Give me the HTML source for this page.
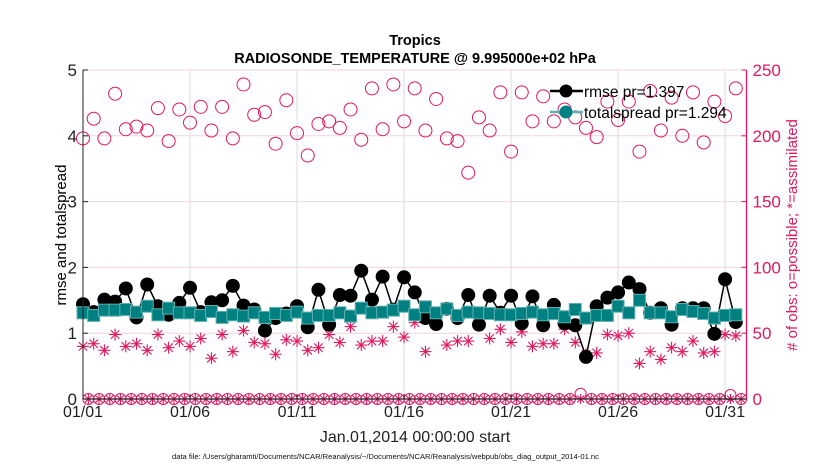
<!DOCTYPE html>
<html><head><meta charset="utf-8"><style>
body{margin:0;background:#fff;}
svg{display:block;font-family:"Liberation Sans",Arial,sans-serif;}
</style></head><body>
<svg id="chart" width="830" height="470" viewBox="0 0 830 470">
<g id="grid"></g>
<g id="marks"></g>
<g id="axes"></g>
<text x="415" y="45" text-anchor="middle" font-size="14.5" font-weight="bold">Tropics</text>
<text x="415" y="63" text-anchor="middle" font-size="14.5" font-weight="bold">RADIOSONDE_TEMPERATURE @ 9.995000e+02 hPa</text>
<text transform="translate(66,235) rotate(-90)" text-anchor="middle" font-size="15">rmse and totalspread</text>
<text transform="translate(797,235) rotate(-90)" text-anchor="middle" font-size="15" fill="#e0185f"># of obs: o=possible; *=assimilated</text>
<text x="415" y="442" text-anchor="middle" font-size="16" fill="#222">Jan.01,2014 00:00:00 start</text>
<text x="172" y="459" font-size="7.6" fill="#111">data file: /Users/gharamti/Documents/NCAR/Reanalysis/~/Documents/NCAR/Reanalysis/webpub/obs_diag_output_2014-01.nc</text>
<g>
<line x1="550" y1="91" x2="583" y2="91" stroke="#000" stroke-width="2.5"/>
<circle cx="566" cy="91" r="6.5" fill="#000"/>
<text x="584" y="97" font-size="15.5">rmse pr=1.397</text>
<line x1="550" y1="112" x2="583" y2="112" stroke="#5fb0b0" stroke-width="2.5"/>
<circle cx="566" cy="112" r="6.5" fill="#008080"/>
<text x="584" y="118" font-size="15.5">totalspread pr=1.294</text>
</g>
</svg>
<script>
const rmse=[1.44,1.32,1.51,1.48,1.68,1.24,1.74,1.41,1.28,1.46,1.69,1.32,1.47,1.50,1.72,1.42,1.36,1.04,1.23,1.30,1.41,1.09,1.66,1.13,1.58,1.57,1.95,1.51,1.86,1.36,1.85,1.62,1.23,1.14,1.37,1.23,1.58,1.13,1.57,1.31,1.57,1.15,1.56,1.12,1.43,1.15,1.12,0.64,1.41,1.54,1.62,1.77,1.67,1.31,1.38,1.13,1.38,1.38,1.38,0.99,1.82,1.17];
const spread=[1.31,1.27,1.35,1.35,1.36,1.32,1.41,1.28,1.38,1.31,1.31,1.27,1.33,1.24,1.28,1.26,1.31,1.24,1.30,1.27,1.32,1.23,1.27,1.27,1.31,1.26,1.38,1.31,1.32,1.35,1.41,1.28,1.40,1.31,1.37,1.27,1.32,1.31,1.30,1.28,1.28,1.30,1.32,1.28,1.30,1.25,1.36,1.23,1.27,1.27,1.41,1.31,1.50,1.31,1.31,1.25,1.36,1.33,1.30,1.23,1.27,1.28];
const possible=[198,213,198,232,205,207,204,221,196,220,210,222,204,222,198,239,216,218,194,227,202,185,209,211,206,220,197,236,205,239,211,236,204,228,198,196,172,214,204,233,188,233,211,230,211,220,214,206,199,226,212,226,188,234,204,229,200,233,195,226,215,236];
const assimilated=[40,42,37,49,40,42,37,49,39,44,40,46,31,49,36,52,43,42,34,45,44,37,39,49,43,55,41,44,44,55,47,58,36,57,41,44,44,58,46,53,43,51,40,42,42,53,43,34,35,49,48,50,27,36,30,39,36,44,35,36,49,48];
const offPossible=[0,0,0,0,0,0,0,0,0,0,0,0,0,0,0,0,0,0,0,0,0,0,0,0,0,0,0,0,0,0,0,0,0,0,0,0,0,0,0,0,0,0,0,0,0,0,4,0,0,0,0,0,0,0,0,0,0,0,0,0,3,0,0];
const xTicks=["01/01","01/06","01/11","01/16","01/21","01/26","01/31"];
const xTickDays=[0,5,10,15,20,25,30];
const yTicks=[0,1,2,3,4,5];
const y2Ticks=[0,50,100,150,200,250];

const NS="http://www.w3.org/2000/svg";
const X0=83,X1=746.5,Y0=399,Y1=70;
const x=d=>X0+(X1-X0)*d/31;
const y=v=>Y0-(Y0-Y1)*v/5;
const y2=v=>Y0-(Y0-Y1)*v/250;
const RED="#e0185f";
function mk(p,t,a){const e=document.createElementNS(NS,t);for(const k in a)e.setAttribute(k,a[k]);p.appendChild(e);return e;}
const G=document.getElementById('grid'),M=document.getElementById('marks'),A=document.getElementById('axes');
xTickDays.forEach((d,i)=>{
 const l=mk(G,'line',{x1:x(d),x2:x(d),y1:Y1,y2:Y0,stroke:'#dcdcdc','stroke-width':1});
 
 
 const t=mk(A,'text',{x:x(d),y:Y0+18,'text-anchor':'middle','font-size':16,fill:'#222'});
 t.textContent=xTicks[i];
 
 
 const tk=mk(A,'line',{x1:x(d),x2:x(d),y1:Y0,y2:Y0-5,stroke:'#222'});
 
 
});
yTicks.forEach(v=>{
 const l=mk(G,'line',{x1:X0,x2:X1,y1:y(v),y2:y(v),stroke:'#f2d6df','stroke-width':1});
 
 
 const t=mk(A,'text',{x:X0-6,y:y(v)+6,'text-anchor':'end','font-size':17,fill:'#222'});
 t.textContent=v;
 
 
 const tk=mk(A,'line',{x1:X0,x2:X0+5,y1:y(v),y2:y(v),stroke:'#222'});
 
 
});
y2Ticks.forEach(v=>{
 const t=mk(A,'text',{x:X1+6,y:y2(v)+6,'font-size':17,fill:RED});
 t.textContent=v;
 
 
 const tk=mk(A,'line',{x1:X1,x2:X1-5,y1:y2(v),y2:y2(v),stroke:RED});
 
 
});
const ax1=mk(A,'line',{x1:X0,x2:X0,y1:Y1,y2:Y0,stroke:'#222'});

const ax2=mk(A,'line',{x1:X1,x2:X1,y1:Y1,y2:Y0,stroke:RED,'stroke-width':1.3});

const ax3=mk(A,'line',{x1:X0,x2:X1,y1:Y0,y2:Y0,stroke:'#222','stroke-width':1.2});


function star(cx,cy,r,name){
 const g=mk(M,'g',{stroke:RED,'stroke-width':1.1});
 
 
 for(let k=0;k<4;k++){const a=k*Math.PI/4;mk(g,'line',{x1:cx-r*Math.cos(a),y1:cy-r*Math.sin(a),x2:cx+r*Math.cos(a),y2:cy+r*Math.sin(a)});}
}
offPossible.forEach((v,i)=>{
 const d=i*0.5+0.25; if(d>31)return;
 const c=mk(M,'circle',{cx:x(d),cy:y2(v),r:5.5,fill:'none',stroke:RED,'stroke-width':1});
 
 
 star(x(d),y2(0),5,'assimilated-offtime-point');
});
possible.forEach((v,i)=>{
 const c=mk(M,'circle',{cx:x(i*0.5),cy:y2(v),r:6.5,fill:'none',stroke:RED,'stroke-width':1});
 
 
});
assimilated.forEach((v,i)=>star(x(i*0.5),y2(v),6,'assimilated-point'));
const sp=mk(M,'polyline',{points:spread.map((v,i)=>x(i*0.5)+','+y(v)).join(' '),fill:'none',stroke:'#5fb0b0','stroke-width':1.5});


const rl=mk(M,'polyline',{points:rmse.map((v,i)=>x(i*0.5)+','+y(v)).join(' '),fill:'none',stroke:'#000','stroke-width':1.5});


rmse.forEach((v,i)=>{
 const c=mk(M,'circle',{cx:x(i*0.5),cy:y(v),r:7,fill:'#000'});
 
 
});
spread.forEach((v,i)=>{
 const c=mk(M,'rect',{x:x(i*0.5)-6,y:y(v)-6,width:12,height:12,fill:'#008080',stroke:'#5fb0b0','stroke-width':1});
 
 
});
</script>
</body></html>
